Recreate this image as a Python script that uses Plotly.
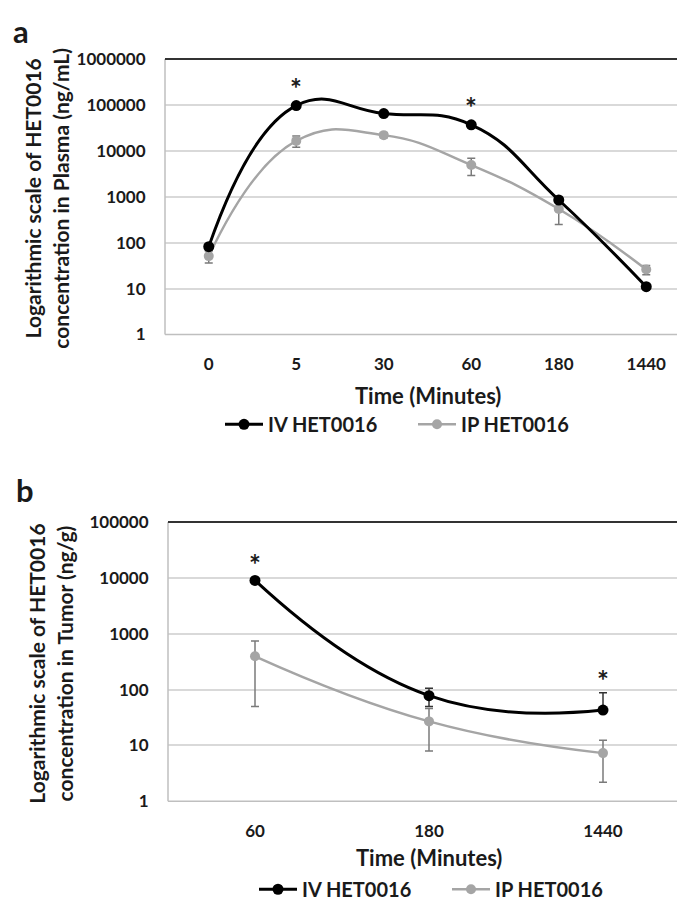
import plotly.graph_objects as go
import numpy as np

# ---------------- data ----------------
cats_a = ["0", "5", "30", "60", "180", "1440"]
iv_a = [82, 97000, 65000, 37000, 850, 11]
iv_a_err = [12, 6000, 5000, 3000, 60, 1]
ip_a = [51, 16500, 22000, 4900, 540, 26]
ip_a_err = [15, 4500, 2800, 2000, 290, 6]

cats_b = ["60", "180", "1440"]
iv_b = [9000, 78, 43]
iv_b_err = [800, 28, 45]
ip_b = [395, 27, 7.3]
ip_b_err = [345, 19, 5.1]

ticks_a = [1, 10, 100, 1000, 10000, 100000, 1000000]
ticks_b = [1, 10, 100, 1000, 10000, 100000]
tick_text_a = [str(v) for v in ticks_a]
tick_text_b = [str(v) for v in ticks_b]

sig_a = ["5", "60"]
sig_b = ["60", "1440"]

names = ["IV HET0016", "IP HET0016"]
ytitle_a = "Logarithmic scale of HET0016<br>concentration in Plasma (ng/mL)"
ytitle_b = "Logarithmic scale of HET0016<br>concentration in Tumor (ng/g)"
xtitle = "Time (Minutes)"

# ---------------- style ----------------
W, H = 685, 902
FONT = "Lato"
BLACK = "#000000"
GRAY = "#a5a5a5"
TXT = "#1a1a1a"


def px_x(p):
    return p / W


def px_y(p):
    return 1 - p / H


def minus_err(vals, errs):
    # lower error bars that would fall at or below zero are not drawn (log axis)
    return [e if e < v else 0 for v, e in zip(vals, errs)]


fig = go.Figure()


def add_series(xa, ya, cats, vals, errs, name, color, ecolor, width, msize, legend, rank):
    fig.add_trace(go.Scatter(
        x=cats, y=vals, name=name, mode="lines+markers",
        xaxis=xa, yaxis=ya, legend=legend, legendrank=rank,
        line=dict(color=color, width=width, shape="spline", smoothing=1.3),
        marker=dict(color=color, size=msize),
        error_y=dict(type="data", array=errs, arrayminus=minus_err(vals, errs),
                     color=ecolor, thickness=1.5, width=4, symmetric=False),
    ))


# panel a
add_series("x", "y", cats_a, ip_a, ip_a_err, names[1], GRAY, "#7a7a7a", 2.5, 10, "legend", 2)
add_series("x", "y", cats_a, iv_a, iv_a_err, names[0], BLACK, "#333333", 3, 11, "legend", 1)
# panel b
add_series("x2", "y2", cats_b, ip_b, ip_b_err, names[1], GRAY, "#7a7a7a", 2.5, 10, "legend2", 2)
add_series("x2", "y2", cats_b, iv_b, iv_b_err, names[0], BLACK, "#333333", 3, 11, "legend2", 1)

tickfont = dict(family=FONT, size=17, color=TXT, weight="bold")

common_x = dict(type="category", showgrid=False, zeroline=False, showline=False,
                ticks="outside", ticklen=14, tickcolor="rgba(0,0,0,0)",
                tickfont=tickfont, fixedrange=True)
common_y = dict(type="log", showgrid=True, gridcolor="#d9d9d9", gridwidth=1.5,
                zeroline=False, showline=False, ticks="outside", ticklen=15,
                tickcolor="rgba(0,0,0,0)", tickfont=tickfont, fixedrange=True)

legend_common = dict(orientation="h", xanchor="left", yanchor="middle",
                     font=dict(family=FONT, size=20, color=TXT, weight="bold"),
                     bgcolor="rgba(0,0,0,0)", itemwidth=38, tracegroupgap=0,
                     entrywidth=140, entrywidthmode="pixels")

fig.update_layout(
    width=W, height=H,
    margin=dict(l=0, r=0, t=0, b=0),
    paper_bgcolor="white", plot_bgcolor="white",
    font=dict(family=FONT, color=TXT),
    xaxis=dict(common_x, domain=[px_x(157), px_x(682)], anchor="y",
               categoryorder="array", categoryarray=cats_a, range=[-0.5, len(cats_a) - 0.5]),
    yaxis=dict(common_y, domain=[px_y(323), px_y(41)], anchor="x",
               range=[0, np.log10(ticks_a[-1])], tickvals=ticks_a, ticktext=tick_text_a),
    xaxis2=dict(common_x, domain=[px_x(160), px_x(682)], anchor="y2",
                categoryorder="array", categoryarray=cats_b, range=[-0.5, len(cats_b) - 0.5]),
    yaxis2=dict(common_y, domain=[px_y(801), px_y(515)], anchor="x2",
                range=[0, np.log10(ticks_b[-1])], tickvals=ticks_b, ticktext=tick_text_b),
    legend=dict(legend_common, x=px_x(212), y=px_y(415)),
    legend2=dict(legend_common, x=px_x(246), y=px_y(891)),
    showlegend=True,
)

# plot-area frames: grey left/bottom, dark top/right
for xa, ya in (("x", "y"), ("x2", "y2")):
    xd, yd = xa + " domain", ya + " domain"
    fig.add_shape(type="line", xref=xd, yref=yd, x0=0, x1=0, y0=0, y1=1,
                  line=dict(color="#bfbfbf", width=1.5))
    fig.add_shape(type="line", xref=xd, yref=yd, x0=0, x1=1, y0=0, y1=0,
                  line=dict(color="#bfbfbf", width=1.5))
    fig.add_shape(type="line", xref=xd, yref=yd, x0=0, x1=1, y0=1, y1=1,
                  line=dict(color="#333333", width=2))
    fig.add_shape(type="line", xref=xd, yref=yd, x0=1, x1=1, y0=0, y1=1,
                  line=dict(color="#333333", width=2))

title_font = dict(family=FONT, size=22, color=TXT, weight="bold")
ytitle_font = dict(family=FONT, size=21, color=TXT, weight="bold")

# axis titles
fig.add_annotation(text=xtitle, xref="paper", yref="paper", x=px_x(420), y=px_y(385),
                   showarrow=False, font=title_font, xanchor="center", yanchor="middle")
fig.add_annotation(text=xtitle, xref="paper", yref="paper", x=px_x(421), y=px_y(858),
                   showarrow=False, font=title_font, xanchor="center", yanchor="middle")
fig.add_annotation(text=ytitle_a, xref="paper", yref="paper", x=px_x(38), y=px_y(184),
                   showarrow=False, font=ytitle_font, textangle=-90,
                   xanchor="center", yanchor="middle")
fig.add_annotation(text=ytitle_b, xref="paper", yref="paper", x=px_x(42), y=px_y(660),
                   showarrow=False, font=ytitle_font, textangle=-90,
                   xanchor="center", yanchor="middle")

# panel letters
fig.add_annotation(text="a", xref="paper", yref="paper", x=px_x(3), y=px_y(12),
                   showarrow=False, font=dict(family=FONT, size=31, color=TXT, weight="bold"),
                   xanchor="left", yanchor="middle")
fig.add_annotation(text="b", xref="paper", yref="paper", x=px_x(6), y=px_y(482),
                   showarrow=False, font=dict(family=FONT, size=31, color=TXT, weight="bold"),
                   xanchor="left", yanchor="middle")

# significance asterisks (x given as category index)
star_font = dict(family=FONT, size=28, color=TXT, weight="bold")
for c, shift in zip(sig_a, [18, 18]):
    i = cats_a.index(c)
    fig.add_annotation(text="*", x=i, y=np.log10(iv_a[i]), xref="x", yref="y",
                       showarrow=False, font=star_font, yshift=shift, yanchor="middle")
for c, shift in zip(sig_b, [16, 30]):
    i = cats_b.index(c)
    fig.add_annotation(text="*", x=i, y=np.log10(iv_b[i]), xref="x2", yref="y2",
                       showarrow=False, font=star_font, yshift=shift, yanchor="middle")

fig.write_html("out.html")
